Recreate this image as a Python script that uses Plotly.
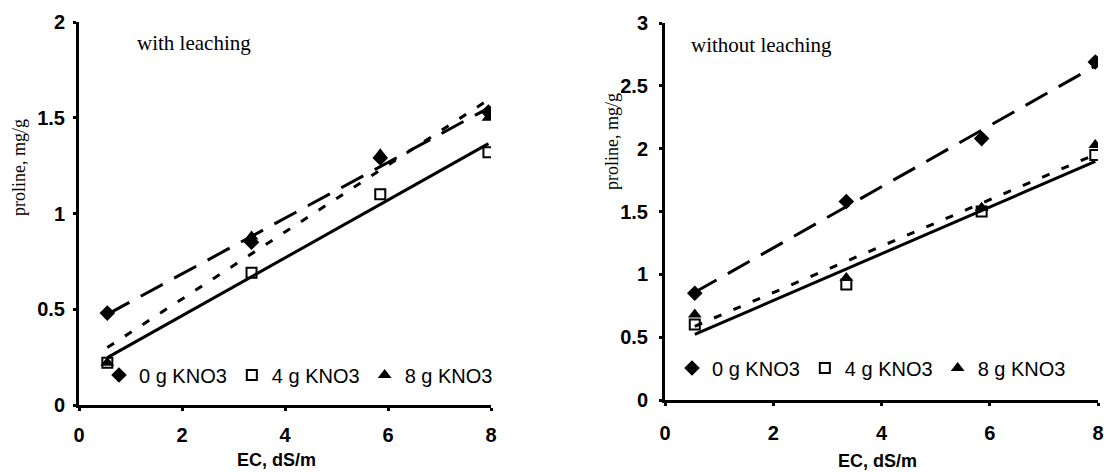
import numpy as np
import plotly.graph_objects as go

# ---- data ----
ec = [0.55, 3.35, 5.85, 7.95]  # EC, dS/m
series_names = ["0 g KNO3", "4 g KNO3", "8 g KNO3"]

# with leaching
with_0g = [0.48, 0.85, 1.29, 1.53]
with_4g = [0.22, 0.69, 1.10, 1.32]
with_8g = [0.22, 0.88, 1.31, 1.50]

# without leaching
without_0g = [0.85, 1.58, 2.08, 2.69]
without_4g = [0.60, 0.92, 1.50, 1.95]
without_8g = [0.68, 0.97, 1.53, 2.03]

x_ticks = [0, 2, 4, 6, 8]
y_ticks_left = [0, 0.5, 1, 1.5, 2]
y_ticks_right = [0, 0.5, 1, 1.5, 2, 2.5, 3]

# ---- styles ----
markers = [
    dict(symbol="diamond", size=12, color="black"),
    dict(symbol="square-open", size=10, color="black", line=dict(width=2, color="black")),
    dict(symbol="triangle-up", size=12, color="black"),
]
dashes = ["25px,13px", "solid", "8px,13px"]

W, H = 1107, 472
fig = go.Figure()

panels = [
    ("x", "y", "legend", [with_0g, with_4g, with_8g]),
    ("x2", "y2", "legend2", [without_0g, without_4g, without_8g]),
]

for xa, ya, lg, data in panels:
    # trend lines (linear least squares over the data)
    for vals, dash in zip(data, dashes):
        slope, icpt = np.polyfit(ec, vals, 1)
        xs = np.array([min(ec), max(ec)])
        fig.add_trace(go.Scatter(
            x=xs, y=slope * xs + icpt, mode="lines",
            line=dict(color="black", width=3, dash=dash),
            xaxis=xa, yaxis=ya, showlegend=False, hoverinfo="skip"))
    for name, vals, mk in zip(series_names, data, markers):
        fig.add_trace(go.Scatter(
            x=ec, y=vals, mode="markers", name=name, marker=mk,
            xaxis=xa, yaxis=ya, legend=lg, showlegend=True))

tick_font = dict(family="Liberation Sans, Arial", size=20, color="black", weight="bold")
axis_common = dict(
    showline=True, linecolor="black", linewidth=3, mirror=False,
    showgrid=False, zeroline=False, ticks="outside", ticklen=3,
    tickwidth=3, tickcolor="black", tickfont=tick_font, fixedrange=True,
    automargin=False,
)
legend_font = dict(family="Liberation Sans, Arial", size=20, color="black")

fig.update_layout(
    template="none",
    width=W, height=H, autosize=False,
    margin=dict(l=0, r=0, t=0, b=0, pad=0),
    paper_bgcolor="white", plot_bgcolor="white",
    xaxis=dict(domain=[79 / W, 491 / W], range=[0, 8], tickvals=x_ticks,
               anchor="y", ticklabelstandoff=7, **axis_common),
    yaxis=dict(domain=[(H - 405) / H, (H - 22) / H], range=[0, 2],
               tickvals=y_ticks_left, ticktext=[f"{v:g}" for v in y_ticks_left],
               anchor="x", ticklabelstandoff=4, **axis_common),
    xaxis2=dict(domain=[665 / W, 1098 / W], range=[0, 8], tickvals=x_ticks,
                anchor="y2", ticklabelstandoff=10, **axis_common),
    yaxis2=dict(domain=[(H - 400) / H, (H - 23) / H], range=[0, 3],
                tickvals=y_ticks_right, ticktext=[f"{v:g}" for v in y_ticks_right],
                anchor="x2", ticklabelstandoff=7, **axis_common),
    legend=dict(orientation="h", x=99 / W, y=(H - 375) / H,
                xanchor="left", yanchor="middle", bgcolor="rgba(0,0,0,0)",
                font=legend_font, itemwidth=30, tracegroupgap=0),
    legend2=dict(orientation="h", x=672 / W, y=(H - 368) / H,
                 xanchor="left", yanchor="middle", bgcolor="rgba(0,0,0,0)",
                 font=legend_font, itemwidth=30, tracegroupgap=0),
    showlegend=True,
)

serif_big = dict(family="Liberation Serif, Times New Roman", size=21, color="black")
serif = dict(family="Liberation Serif, Times New Roman", size=18, color="black")
bold_sans = dict(family="Liberation Sans, Arial", size=18, color="black", weight="bold")
annotations = [
    dict(text="with leaching", x=135 / W, y=(H - 43) / H, xanchor="left",
         yanchor="middle", font=serif_big),
    dict(text="without leaching", x=689 / W, y=(H - 45) / H, xanchor="left",
         yanchor="middle", font=serif_big),
    dict(text="proline, mg/g", x=19 / W, y=(H - 168) / H, textangle=-90,
         xanchor="center", yanchor="middle", font=serif),
    dict(text="proline, mg/g", x=612 / W, y=(H - 142) / H, textangle=-90,
         xanchor="center", yanchor="middle", font=serif),
    dict(text="EC, dS/m", x=276 / W, y=(H - 460) / H, xanchor="center",
         yanchor="middle", font=bold_sans),
    dict(text="EC, dS/m", x=878 / W, y=(H - 461) / H, xanchor="center",
         yanchor="middle", font=bold_sans),
]
for a in annotations:
    a.update(xref="paper", yref="paper", showarrow=False)
fig.update_layout(annotations=annotations)

fig.write_html(
    "out.html",
    config={"displayModeBar": False},
    post_script="document.body.style.margin='0px';document.body.style.overflow='hidden';",
)
